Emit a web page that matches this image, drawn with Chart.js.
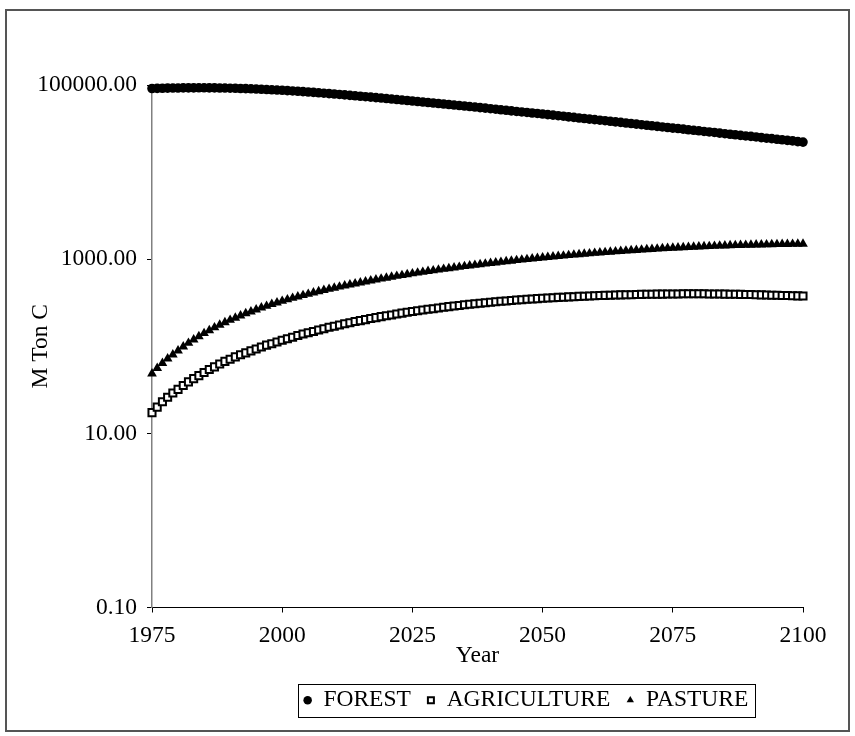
<!DOCTYPE html>
<html>
<head>
<meta charset="utf-8">
<script src="https://cdn.jsdelivr.net/npm/chart.js@4/dist/chart.umd.min.js"></script>
<style>
  html, body { margin: 0; padding: 0; background: #fff; }
  #wrap { width: 855px; height: 736px; }
</style>
</head>
<body>
<div id="wrap"><canvas id="mainChart" width="855" height="736"></canvas></div>
<script>
// years 1975..2100, one value per year (M Ton C)
const years = [
  1975, 1976, 1977, 1978, 1979, 1980, 1981, 1982, 1983, 1984,
  1985, 1986, 1987, 1988, 1989, 1990, 1991, 1992, 1993, 1994,
  1995, 1996, 1997, 1998, 1999, 2000, 2001, 2002, 2003, 2004,
  2005, 2006, 2007, 2008, 2009, 2010, 2011, 2012, 2013, 2014,
  2015, 2016, 2017, 2018, 2019, 2020, 2021, 2022, 2023, 2024,
  2025, 2026, 2027, 2028, 2029, 2030, 2031, 2032, 2033, 2034,
  2035, 2036, 2037, 2038, 2039, 2040, 2041, 2042, 2043, 2044,
  2045, 2046, 2047, 2048, 2049, 2050, 2051, 2052, 2053, 2054,
  2055, 2056, 2057, 2058, 2059, 2060, 2061, 2062, 2063, 2064,
  2065, 2066, 2067, 2068, 2069, 2070, 2071, 2072, 2073, 2074,
  2075, 2076, 2077, 2078, 2079, 2080, 2081, 2082, 2083, 2084,
  2085, 2086, 2087, 2088, 2089, 2090, 2091, 2092, 2093, 2094,
  2095, 2096, 2097, 2098, 2099, 2100
];

const forest = [
  91200, 91500, 91800, 92100, 92300, 92400, 92600, 92700, 92800, 92900,
  92900, 92800, 92600, 92400, 92200, 91900, 91600, 91200, 90800, 90400,
  89900, 89300, 88700, 88100, 87500, 86900, 86100, 85400, 84600, 83900,
  83100, 82200, 81400, 80500, 79700, 78800, 77900, 77000, 76100, 75200,
  74300, 73400, 72600, 71700, 70800, 69900, 69000, 68100, 67200, 66400,
  65500, 64600, 63800, 62900, 62100, 61300, 60500, 59700, 58900, 58100,
  57400, 56600, 55800, 55000, 54200, 53400, 52700, 51900, 51200, 50400,
  49700, 49000, 48400, 47700, 47100, 46400, 45700, 45100, 44400, 43800,
  43100, 42500, 41800, 41200, 40600, 40000, 39400, 38900, 38300, 37700,
  37200, 36600, 36100, 35500, 35000, 34500, 34000, 33500, 33000, 32500,
  32000, 31600, 31100, 30600, 30200, 29800, 29300, 28900, 28500, 28000,
  27600, 27200, 26800, 26400, 26000, 25700, 25300, 24900, 24500, 24200,
  23800, 23500, 23100, 22800, 22400, 22100
];

const agriculture = [
  17.3, 20, 23, 26, 29, 32, 35.5, 39, 42.5, 46,
  50, 54, 58, 62.5, 67, 71, 75.5, 80, 84, 88.5,
  93, 98, 103, 107, 112, 117, 122, 127, 133, 138,
  143, 148, 154, 159, 165, 170, 175, 181, 186, 192,
  197, 202, 208, 213, 219, 224, 229, 235, 240, 246,
  251, 256, 261, 266, 270, 275, 280, 285, 290, 294,
  299, 303, 307, 312, 316, 320, 324, 328, 331, 335,
  339, 342, 346, 349, 352, 355, 358, 361, 364, 366,
  369, 371, 374, 376, 378, 380, 382, 384, 386, 387,
  389, 390, 391, 393, 394, 395, 396, 397, 397, 398,
  399, 399, 400, 400, 400, 400, 400, 399, 399, 398,
  397, 396, 395, 394, 393, 392, 391, 389, 388, 386,
  385, 383, 382, 380, 379, 377
];

const pasture = [
  48.5, 56, 64, 72, 80, 89, 99, 109, 119, 130,
  141, 152, 164, 176, 188, 200, 212, 225, 238, 250,
  263, 277, 290, 304, 317, 331, 344, 358, 371, 385,
  398, 412, 426, 440, 454, 468, 482, 496, 509, 523,
  537, 552, 566, 581, 595, 610, 625, 640, 654, 669,
  684, 698, 712, 727, 741, 755, 770, 784, 799, 813,
  828, 842, 856, 871, 885, 899, 913, 927, 942, 956,
  970, 984, 998, 1012, 1026, 1040, 1054, 1068, 1081, 1095,
  1109, 1122, 1136, 1149, 1162, 1175, 1187, 1199, 1212, 1224,
  1236, 1248, 1259, 1271, 1282, 1294, 1305, 1316, 1327, 1338,
  1349, 1358, 1367, 1376, 1384, 1392, 1400, 1408, 1416, 1424,
  1431, 1437, 1443, 1448, 1454, 1460, 1465, 1469, 1474, 1478,
  1482, 1486, 1489, 1493, 1496, 1500
];

const yTicks = [0.1, 10, 1000, 100000];
const xTicks = [1975, 2000, 2025, 2050, 2075, 2100];

const serif = '"Liberation Serif", "Times New Roman", serif';

function pts(values) {
  return years.map((yr, i) => ({ x: yr, y: values[i] }));
}

// white page with the thin grey frame around everything
const frame = {
  id: 'frame',
  beforeDraw(chart) {
    const ctx = chart.ctx;
    ctx.save();
    ctx.fillStyle = '#fff';
    ctx.fillRect(0, 0, chart.width, chart.height);
    ctx.restore();
  },
  afterDraw(chart) {
    const ctx = chart.ctx;
    ctx.save();
    ctx.strokeStyle = '#555';
    ctx.lineWidth = 2;
    ctx.strokeRect(6, 10, 843, 721);
    ctx.restore();
  }
};

// legend sits right of centre in the original, with a box round it
const legendBox = {
  id: 'legendBox',
  afterLayout(chart) {
    const lg = chart.legend;
    const shift = 526 - (lg.left + lg.right) / 2;
    lg.left += shift;
    lg.right += shift;
  },
  afterDraw(chart) {
    const boxes = chart.legend.legendHitBoxes;
    if (!boxes || !boxes.length) return;
    let x0 = Infinity, x1 = -Infinity, y0 = Infinity, y1 = -Infinity;
    boxes.forEach(b => {
      x0 = Math.min(x0, b.left);
      x1 = Math.max(x1, b.left + b.width);
      y0 = Math.min(y0, b.top);
      y1 = Math.max(y1, b.top + b.height);
    });
    const ctx = chart.ctx;
    ctx.save();
    ctx.strokeStyle = '#000';
    ctx.lineWidth = 1;
    ctx.strokeRect(Math.round(x0 - 6) + 0.5, Math.round(y0 - 5) + 0.5, Math.round(x1 - x0 + 12), Math.round(y1 - y0 + 9));
    ctx.restore();
  }
};

const ctx = document.getElementById('mainChart').getContext('2d');
const carbonChart = new Chart(ctx, {
  type: 'line',
  data: {
    datasets: [{
      label: 'FOREST',
      data: pts(forest),
      showLine: false,
      pointStyle: 'circle',
      pointRadius: 4.8,
      pointBackgroundColor: '#000',
      pointBorderColor: '#000',
      pointBorderWidth: 0,
      clip: false
    }, {
      label: 'AGRICULTURE',
      data: pts(agriculture),
      showLine: false,
      pointStyle: 'rect',
      pointRadius: 5,
      pointBackgroundColor: '#fff',
      pointBorderColor: '#000',
      pointBorderWidth: 2,
      clip: false
    }, {
      label: 'PASTURE',
      data: pts(pasture),
      showLine: false,
      pointStyle: 'triangle',
      pointRadius: 5.6,
      pointBackgroundColor: '#000',
      pointBorderColor: '#000',
      pointBorderWidth: 0,
      clip: false
    }]
  },
  options: {
    responsive: false,
    animation: false,
    layout: {
      padding: { left: 27, right: 52, top: 85, bottom: 14 }
    },
    plugins: {
      tooltip: { enabled: false },
      legend: {
        position: 'bottom',
        labels: {
          usePointStyle: true,
          boxWidth: 8,
          boxHeight: 6,
          padding: 16,
          color: '#000',
          font: { family: serif, size: 23.5 }
        }
      }
    },
    scales: {
      x: {
        type: 'linear',
        min: 1975,
        max: 2100,
        afterBuildTicks: scale => { scale.ticks = xTicks.map(v => ({ value: v })); },
        afterFit: scale => { scale.height = 65; },
        ticks: {
          color: '#000',
          padding: 9,
          maxRotation: 0,
          font: { family: serif, size: 23.5 },
          callback: v => String(v)
        },
        grid: { drawOnChartArea: false, drawTicks: true, tickLength: 5, tickColor: '#000' },
        border: { color: '#000', width: 1 },
        title: {
          display: true,
          text: 'Year',
          color: '#000',
          font: { family: serif, size: 23.5 },
          padding: { top: 0, bottom: 3 }
        }
      },
      y: {
        type: 'logarithmic',
        min: 0.1,
        max: 100000,
        afterBuildTicks: scale => { scale.ticks = yTicks.map(v => ({ value: v })); },
        afterFit: scale => { scale.width = 125; },
        ticks: {
          color: '#000',
          padding: 10,
          font: { family: serif, size: 23.5 },
          callback: v => Number(v).toFixed(2)
        },
        grid: { drawOnChartArea: false, drawTicks: true, tickLength: 5, tickColor: '#000' },
        border: { color: '#808080', width: 1.5 },
        title: {
          display: true,
          text: 'M Ton C',
          color: '#000',
          font: { family: serif, size: 23.5 },
          padding: { top: 0, bottom: 0 }
        }
      }
    }
  },
  plugins: [frame, legendBox]
});
</script>
</body>
</html>
